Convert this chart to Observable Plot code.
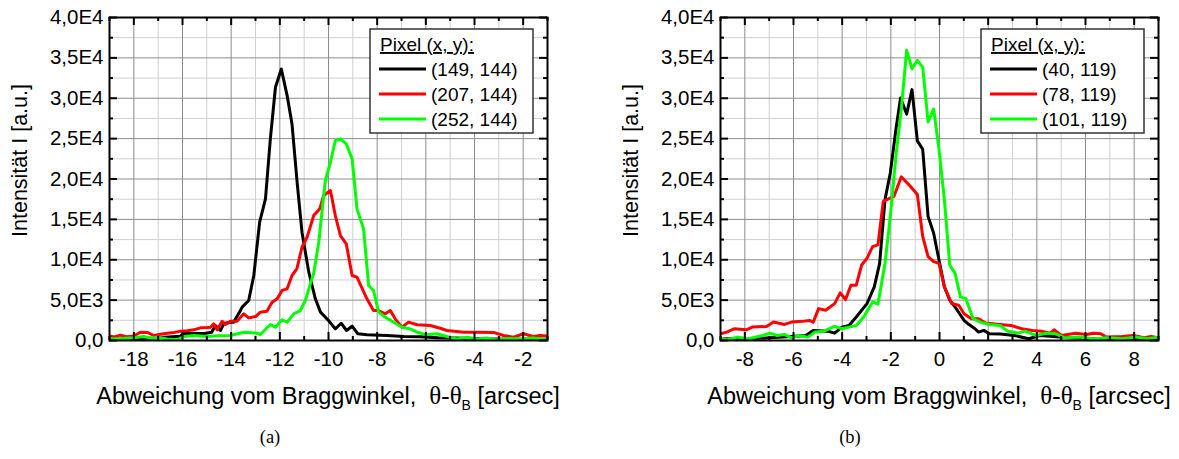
<!DOCTYPE html>
<html><head><meta charset="utf-8">
<script src="https://cdn.jsdelivr.net/npm/d3@7"></script>
<script src="https://cdn.jsdelivr.net/npm/@observablehq/plot@0.6"></script>
<style>
body{margin:0;background:#fff;}
#fig{position:relative;width:1179px;height:459px;overflow:hidden;background:#fff;}
.panel{position:absolute;top:0;width:590px;height:420px;}
.panel svg{max-width:none !important;}
.cap{position:absolute;top:428px;font-family:"Liberation Serif","Times New Roman",serif;font-size:18.5px;line-height:18px;transform:translateX(-50%);}
</style></head><body>
<div id="fig">
  <div class="panel" id="pa" style="left:0px"></div>
  <div class="panel" id="pb" style="left:611px"></div>
  <div class="cap" style="left:270px">(a)</div>
  <div class="cap" style="left:850px">(b)</div>
</div>
<script>
// ---------- shared axis data ----------
const yMajor = [0, 5000, 10000, 15000, 20000, 25000, 30000, 35000, 40000];
const yMinor = [2500, 7500, 12500, 17500, 22500, 27500, 32500, 37500];
const seriesColors = ["#000000", "#ff0000", "#00ff00"];

// ---------- panel (a) ----------
const xMajorA = [-18, -16, -14, -12, -10, -8, -6, -4, -2];
const xMinorA = [-19, -17, -15, -13, -11, -9, -7, -5, -3, -1];
const namesA = ["(149, 144)", "(207, 144)", "(252, 144)"];

const blackA_x = [-19.0, -18.0, -17.2, -16.6, -16.1, -15.95, -15.1, -14.8, -14.65, -14.44, -14.3, -14.03, -13.9, -13.62, -13.55, -13.28, -13.07, -12.83, -12.59, -12.39, -12.18, -11.94, -11.7, -11.5, -11.29, -11.09, -10.81, -10.54, -10.33, -10.0, -9.72, -9.48, -9.26, -9.03, -8.8, -8.42, -7.6, -6.9, -6.23, -5.5, -4.8, -4.0, -3.2, -2.4, -1.0];
const blackA_y = [150, 200, 300, 420, 540, 870, 870, 1030, 1860, 1240, 2100, 2270, 2270, 3700, 4130, 4950, 8050, 14650, 17540, 24970, 31360, 33630, 30330, 26820, 19600, 13410, 8460, 5160, 3510, 2480, 1440, 2140, 1240, 1770, 840, 700, 620, 500, 460, 350, 300, 250, 200, 150, 150];

const redA_x = [-19.0, -18.8, -18.55, -18.3, -18.0, -17.73, -17.45, -17.18, -16.9, -16.63, -16.35, -16.08, -15.8, -15.54, -15.26, -14.99, -14.85, -14.72, -14.58, -14.37, -14.24, -14.03, -13.76, -13.48, -13.28, -13.0, -12.8, -12.53, -12.32, -12.11, -11.91, -11.7, -11.5, -11.3, -11.09, -10.88, -10.61, -10.36, -10.2, -9.92, -9.72, -9.51, -9.27, -9.03, -8.83, -8.42, -8.15, -7.94, -7.67, -7.46, -7.26, -6.98, -6.71, -6.36, -5.82, -5.41, -5.13, -4.45, -3.9, -3.22, -2.81, -2.4, -1.98, -1.6, -1.3, -1.0];
const redA_y = [550, 450, 660, 480, 550, 1030, 1000, 620, 780, 910, 1000, 1160, 1200, 1320, 1570, 1600, 1650, 2060, 1320, 2390, 1980, 2390, 2390, 3300, 2800, 2970, 3510, 3630, 4750, 5160, 6200, 6400, 8050, 8870, 11550, 12790, 15470, 16300, 17950, 18570, 15470, 13000, 11970, 8050, 7840, 5160, 3710, 3710, 3300, 3710, 2680, 1650, 2270, 1950, 1860, 1520, 1240, 1030, 1030, 1000, 620, 410, 830, 500, 620, 550];

const greenA_x = [-19.0, -18.5, -18.0, -17.59, -17.3, -17.0, -16.63, -16.22, -15.95, -15.54, -14.99, -14.5, -14.03, -13.48, -12.93, -12.8, -12.39, -12.18, -11.91, -11.7, -11.43, -11.16, -10.95, -10.81, -10.61, -10.4, -10.27, -10.13, -9.92, -9.72, -9.51, -9.27, -9.03, -8.83, -8.56, -8.35, -8.15, -7.94, -7.67, -7.32, -6.98, -6.64, -6.36, -5.95, -5.54, -5.13, -4.72, -4.32, -3.9, -3.5, -3.08, -2.6, -2.12, -1.6, -1.0];
const greenA_y = [200, 250, 330, 500, 300, 410, 200, 80, 500, 620, 500, 600, 620, 1030, 910, 740, 1980, 1650, 2560, 2270, 3300, 3710, 4950, 6400, 8300, 12170, 15880, 19810, 22080, 24760, 24970, 24350, 22490, 16300, 13830, 6810, 6190, 3510, 2890, 2270, 1650, 1440, 1030, 700, 830, 500, 200, 410, 200, 300, 80, 250, 200, 300, 100];

// ---------- panel (b) ----------
const xMajorB = [-8, -6, -4, -2, 0, 2, 4, 6, 8];
const xMinorB = [-9, -7, -5, -3, -1, 1, 3, 5, 7, 9];
const namesB = ["(40, 119)", "(78, 119)", "(101, 119)"];

const blackB_x = [-9.0, -8.0, -6.97, -6.08, -5.49, -5.19, -4.6, -4.31, -4.01, -3.72, -3.42, -2.98, -2.68, -2.46, -2.24, -2.02, -1.79, -1.6, -1.35, -1.13, -0.91, -0.69, -0.47, -0.24, -0.02, 0.2, 0.42, 0.64, 1.01, 1.2, 1.46, 1.6, 1.82, 2.05, 2.5, 3.08, 3.67, 4.11, 4.7, 5.3, 6.0, 7.0, 8.0, 9.0];
const blackB_y = [210, 200, 330, 500, 620, 1250, 1160, 910, 1660, 1870, 2910, 4570, 6650, 9550, 17450, 20770, 26170, 30030, 28040, 31070, 24720, 23680, 15370, 13290, 9970, 6650, 5000, 4150, 2490, 2000, 1450, 1040, 1250, 830, 800, 620, 210, 620, 500, 330, 250, 200, 200, 200];

const redB_x = [-9.0, -8.74, -8.44, -7.93, -7.7, -7.11, -6.82, -6.37, -6.08, -5.64, -5.34, -5.19, -4.97, -4.68, -4.31, -4.08, -3.86, -3.64, -3.42, -3.2, -2.98, -2.75, -2.53, -2.31, -2.16, -1.87, -1.57, -1.2, -0.91, -0.69, -0.47, -0.24, -0.02, 0.2, 0.5, 0.79, 1.01, 1.31, 1.6, 1.9, 2.49, 2.93, 3.38, 3.82, 4.19, 4.56, 4.71, 5.0, 5.59, 6.04, 6.33, 6.63, 6.85, 7.51, 7.96, 8.4, 8.7, 9.0];
const redB_y = [830, 1040, 1450, 1330, 1660, 1740, 2280, 1990, 2280, 2370, 2490, 2280, 3950, 3740, 4570, 5900, 5070, 6850, 6850, 9350, 10180, 11630, 11840, 17240, 17450, 17860, 20270, 19110, 18070, 12880, 10390, 9760, 9550, 6650, 4570, 4360, 3320, 2700, 2700, 2160, 1990, 1870, 1450, 1250, 1160, 910, 1330, 620, 910, 750, 910, 830, 420, 500, 620, 330, 500, 330];

const greenB_x = [-9.0, -8.74, -8.3, -7.85, -7.26, -6.97, -6.67, -6.37, -6.08, -5.78, -5.41, -5.12, -4.75, -4.31, -4.01, -3.72, -3.42, -3.12, -2.75, -2.53, -2.24, -2.02, -1.79, -1.57, -1.35, -1.13, -0.91, -0.69, -0.47, -0.24, -0.02, 0.2, 0.42, 0.64, 0.86, 1.08, 1.38, 1.68, 2.05, 2.49, 2.79, 3.23, 3.52, 3.97, 4.41, 4.78, 5.15, 5.74, 6.33, 6.92, 7.51, 8.1, 8.55, 9.0];
const greenB_y = [330, 80, 420, 210, 620, 910, 620, 750, 330, 620, 420, 1040, 1160, 1740, 1450, 1660, 1870, 2910, 4780, 4490, 9550, 15370, 22850, 28660, 35930, 33650, 34690, 33850, 27080, 28660, 23680, 17450, 9350, 8310, 5400, 5190, 2700, 2280, 1990, 1870, 1160, 910, 1160, 620, 910, 830, 330, 420, 210, 330, 210, 420, 210, 420];

// ---------- drawing ----------
const FONT = '"Liberation Sans", Arial, sans-serif';
const SERIF = '"Liberation Serif", "Times New Roman", serif';
function fmtY(v) {
  if (v === 0) return "0,0";
  const e = Math.floor(Math.log10(v) + 1e-9);
  const m = v / Math.pow(10, e);
  return m.toFixed(1).replace(".", ",") + "E" + e;
}

function makePanel(cfg) {
  const W = 590, H = 420, mL = 109, mR = 43, mT = 17, mB = 80;
  const fw = W - mL - mR, fh = H - mT - mB;
  const rows = [];
  cfg.series.forEach((s, i) => s.x.forEach((x, j) => rows.push({x, y: s.y[j], name: cfg.names[i]})));
  const tick = {stroke: "#000", strokeWidth: 2};
  const plot = Plot.plot({
    width: W, height: H,
    marginLeft: mL, marginRight: mR, marginTop: mT, marginBottom: mB,
    x: {domain: cfg.xDomain},
    y: {domain: [0, 40000]},
    color: {domain: cfg.names, range: seriesColors},
    style: {fontFamily: FONT, fontSize: "20.5px", color: "#000", background: "#fff", overflow: "visible", maxWidth: "none"},
    marks: [
      Plot.ruleX(cfg.xMinor, {stroke: "#d0d0d0", strokeWidth: 1}),
      Plot.ruleY(yMinor, {stroke: "#d0d0d0", strokeWidth: 1}),
      Plot.ruleX(cfg.xMajor, {stroke: "#8c8c8c", strokeWidth: 1}),
      Plot.ruleY(yMajor, {stroke: "#8c8c8c", strokeWidth: 1}),
      Plot.line(rows, {x: "x", y: "y", z: "name", stroke: "name", strokeWidth: 3, strokeLinejoin: "round", clip: true}),
      Plot.ruleX(cfg.xMajor, {...tick, insetTop: fh - 8}),
      Plot.ruleX(cfg.xMajor, {...tick, insetBottom: fh - 8}),
      Plot.ruleX(cfg.xMinor, {...tick, insetTop: fh - 4}),
      Plot.ruleX(cfg.xMinor, {...tick, insetBottom: fh - 4}),
      Plot.ruleY(yMajor, {...tick, insetRight: fw - 8}),
      Plot.ruleY(yMajor, {...tick, insetLeft: fw - 8}),
      Plot.ruleY(yMinor, {...tick, insetRight: fw - 4}),
      Plot.ruleY(yMinor, {...tick, insetLeft: fw - 4}),
      Plot.frame({stroke: "#000", strokeWidth: 2}),
      Plot.axisX(cfg.xMajor, {tickSize: 0, tickPadding: 11, tickFormat: d => String(d), label: null}),
      Plot.axisY(yMajor, {tickSize: 0, tickPadding: 6, tickFormat: fmtY, label: null})
    ]
  });
  plot.style.maxWidth = "none";
  const svg = d3.select(plot);
  // y axis title
  svg.append("text")
    .attr("transform", `translate(27,${mT + fh / 2 - 18}) rotate(-90)`)
    .attr("text-anchor", "middle")
    .style("font-family", FONT).style("font-size", "21.5px").attr("fill", "#000")
    .text("Intensität I [a.u.]");
  // x axis title
  const xt = svg.append("text")
    .attr("x", mL + fw / 2).attr("y", H - 16)
    .attr("text-anchor", "middle")
    .style("font-family", FONT).style("font-size", "23.5px").attr("fill", "#000");
  xt.append("tspan").text("Abweichung vom Braggwinkel,\u00a0\u00a0");
  xt.append("tspan").style("font-family", SERIF).style("font-size", "25px").text("θ-θ");
  xt.append("tspan").attr("dy", 6).style("font-size", "14px").text("B");
  xt.append("tspan").attr("dy", -6).text("\u00a0[arcsec]");
  // legend
  const lx = mL + fw - 177, ly = mT + 12;
  const g = svg.append("g").attr("transform", `translate(${lx},${ly})`).attr("text-anchor", "start");
  g.append("rect").attr("width", 163).attr("height", 104).attr("fill", "#fff").attr("stroke", "#333").attr("stroke-width", 1.5);
  g.append("text").attr("x", 10).attr("y", 22).attr("text-anchor", "start")
    .style("font-family", FONT).style("font-size", "19px").style("text-decoration", "underline").attr("fill", "#000")
    .text("Pixel (x, y):");
  cfg.names.forEach((n, i) => {
    const yy = 40 + 25 * i;
    g.append("line").attr("x1", 9).attr("x2", 56).attr("y1", yy).attr("y2", yy)
      .attr("stroke", seriesColors[i]).attr("stroke-width", 3);
    g.append("text").attr("x", 61).attr("y", yy + 7).attr("text-anchor", "start")
      .style("font-family", FONT).style("font-size", "19px").attr("fill", "#000")
      .text(n);
  });
  return plot;
}

document.getElementById("pa").appendChild(makePanel({
  xDomain: [-19, -1], xMajor: xMajorA, xMinor: xMinorA, names: namesA,
  series: [{x: blackA_x, y: blackA_y}, {x: redA_x, y: redA_y}, {x: greenA_x, y: greenA_y}]
}));
document.getElementById("pb").appendChild(makePanel({
  xDomain: [-9, 9], xMajor: xMajorB, xMinor: xMinorB, names: namesB,
  series: [{x: blackB_x, y: blackB_y}, {x: redB_x, y: redB_y}, {x: greenB_x, y: greenB_y}]
}));
</script>
</body></html>
